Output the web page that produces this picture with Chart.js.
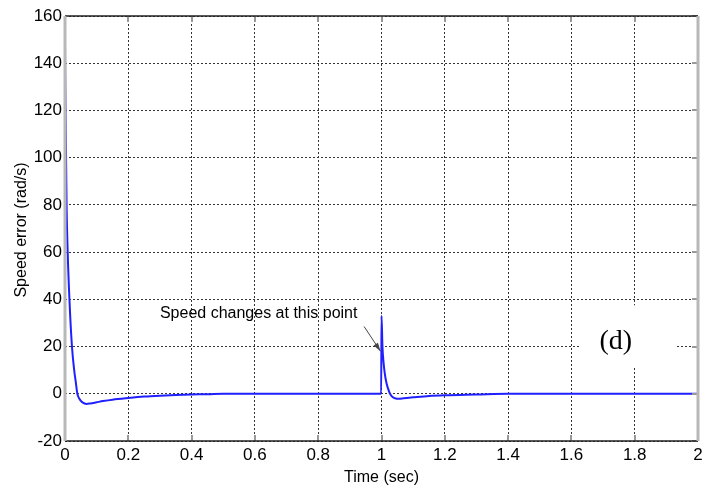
<!DOCTYPE html>
<html>
<head>
<meta charset="utf-8">
<script src="https://cdn.jsdelivr.net/npm/chart.js@4"></script>
<style>
  html, body { margin: 0; padding: 0; background: #fff; }
  #wrap { width: 722px; height: 493px; }
</style>
</head>
<body>
<div id="wrap"><canvas id="speed-chart" width="722" height="493"></canvas></div>
<script>
// simulated speed error, time in seconds
const timeSec = [0, 0.001, 0.003, 0.005, 0.0085, 0.014, 0.022, 0.029, 0.034, 0.039, 0.045, 0.052, 0.06, 0.068, 0.08, 0.1, 0.12, 0.15, 0.2, 0.25, 0.3, 0.35, 0.4, 0.45, 0.5, 0.6, 0.8, 0.999,
  1.0, 1.003, 1.006, 1.01, 1.015, 1.02, 1.027, 1.035, 1.045, 1.055, 1.07, 1.1, 1.15, 1.2, 1.3, 1.4, 1.6, 1.8, 2.0];
const speedError = [147, 130, 105, 80, 60, 40, 20, 10, 5, 0, -2, -3.3, -4, -4.3, -4.1, -3.6, -3.1, -2.5, -1.8, -1.2, -0.8, -0.5, -0.3, -0.2, 0, 0, 0, 0,
  33, 20, 14, 9, 5, 2.5, 0, -1.4, -2, -2.1, -1.9, -1.5, -0.9, -0.6, -0.3, 0, 0, 0, 0];

const xTicks = [0, 0.2, 0.4, 0.6, 0.8, 1, 1.2, 1.4, 1.6, 1.8, 2];
const yTicks = [-20, 0, 20, 40, 60, 80, 100, 120, 140, 160];

const xTitle = 'Time (sec)';
const yTitle = 'Speed error (rad/s)';
const noteText = 'Speed changes at this point';
const panelLabel = '(d)';

const labelFamily = "'Liberation Sans Narrow', 'Liberation Sans', Arial, sans-serif";
const tickFont = { family: labelFamily, size: 17 };

const points = timeSec.map((t, i) => ({ x: t, y: speedError[i] }));

const dotted = {
  color: '#333',
  lineWidth: 1,
  drawTicks: false
};

// frame, axis titles, the arrow note and the panel tag
const extras = {
  id: 'extras',
  beforeDatasetsDraw(chart) {
    const { ctx, scales: { x, y } } = chart;
    // box behind the panel tag hides the grid
    ctx.save();
    ctx.fillStyle = '#fff';
    ctx.fillRect(x.getPixelForValue(1.625), y.getPixelForValue(37.5), 96, 62);
    ctx.restore();
  },
  afterDraw(chart) {
    const { ctx, chartArea: a, scales: { x, y } } = chart;
    ctx.save();
    // inner tick marks
    ctx.strokeStyle = '#999';
    ctx.lineWidth = 2;
    xTicks.forEach(v => {
      const px = Math.round(x.getPixelForValue(v));
      ctx.beginPath();
      ctx.moveTo(px, a.bottom); ctx.lineTo(px, a.bottom - 6);
      ctx.moveTo(px, a.top); ctx.lineTo(px, a.top + 6);
      ctx.stroke();
    });
    yTicks.forEach(v => {
      const py = Math.round(y.getPixelForValue(v));
      ctx.beginPath();
      ctx.moveTo(a.right, py); ctx.lineTo(a.right - 6, py);
      ctx.stroke();
    });
    // frame
    ctx.strokeStyle = '#222';
    ctx.lineWidth = 1.5;
    ctx.beginPath();
    ctx.moveTo(a.left, a.top); ctx.lineTo(a.right, a.top);
    ctx.moveTo(a.left, a.bottom); ctx.lineTo(a.right, a.bottom);
    ctx.stroke();
    ctx.strokeStyle = '#b8b8b8';
    ctx.lineWidth = 3;
    ctx.beginPath();
    ctx.moveTo(a.left, a.top); ctx.lineTo(a.left, a.bottom);
    ctx.moveTo(a.right, a.top); ctx.lineTo(a.right, a.bottom);
    ctx.stroke();

    // axis titles
    ctx.fillStyle = '#000';
    ctx.font = `16px ${labelFamily}`;
    ctx.textAlign = 'center';
    ctx.textBaseline = 'middle';
    ctx.fillText(xTitle, (a.left + a.right) / 2, 478);
    ctx.save();
    ctx.translate(22, 230);
    ctx.rotate(-Math.PI / 2);
    ctx.fillText(yTitle, 0, 0);
    ctx.restore();

    // note with arrow pointing at the step
    ctx.textAlign = 'left';
    ctx.font = `16px ${labelFamily}`;
    ctx.fillText(noteText, x.getPixelForValue(0.3), y.getPixelForValue(34));
    const tipX = x.getPixelForValue(1.0) - 1;
    const tipY = y.getPixelForValue(18);
    const tailX = x.getPixelForValue(0.945);
    const tailY = y.getPixelForValue(28.5);
    ctx.strokeStyle = '#444';
    ctx.lineWidth = 1;
    ctx.beginPath();
    ctx.moveTo(tailX, tailY); ctx.lineTo(tipX, tipY);
    ctx.stroke();
    const ang = Math.atan2(tipY - tailY, tipX - tailX);
    ctx.fillStyle = '#444';
    ctx.beginPath();
    ctx.moveTo(tipX, tipY);
    ctx.lineTo(tipX - 9 * Math.cos(ang - 0.3), tipY - 9 * Math.sin(ang - 0.3));
    ctx.lineTo(tipX - 9 * Math.cos(ang + 0.3), tipY - 9 * Math.sin(ang + 0.3));
    ctx.closePath();
    ctx.fill();

    // panel tag
    ctx.fillStyle = '#000';
    ctx.font = "28px 'Liberation Serif', 'Times New Roman', serif";
    ctx.textAlign = 'center';
    ctx.fillText(panelLabel, x.getPixelForValue(1.74), y.getPixelForValue(22));
    ctx.restore();
  }
};

new Chart(document.getElementById('speed-chart'), {
  type: 'line',
  data: {
    datasets: [{
      data: points,
      borderColor: '#2020ff',
      borderWidth: 2,
      pointRadius: 0,
      cubicInterpolationMode: 'monotone',
      fill: false
    }]
  },
  options: {
    responsive: false,
    animation: false,
    layout: { padding: { left: 0, right: 24, top: 16, bottom: 0 } },
    plugins: { legend: { display: false }, tooltip: { enabled: false } },
    scales: {
      x: {
        type: 'linear',
        min: 0,
        max: 2,
        afterBuildTicks: axis => { axis.ticks = xTicks.map(v => ({ value: v })); },
        afterFit: axis => { axis.height = 52; },
        grid: dotted,
        border: { display: false, dash: [2, 2] },
        ticks: { color: '#000', font: tickFont, padding: 4, maxRotation: 0, callback: v => String(v) }
      },
      y: {
        min: -20,
        max: 160,
        afterBuildTicks: axis => { axis.ticks = yTicks.map(v => ({ value: v })); },
        afterFit: axis => { axis.width = 65; },
        grid: dotted,
        border: { display: false, dash: [2, 2] },
        ticks: { color: '#000', font: tickFont, padding: 3, callback: v => String(v) }
      }
    }
  },
  plugins: [extras]
});
</script>
</body>
</html>
